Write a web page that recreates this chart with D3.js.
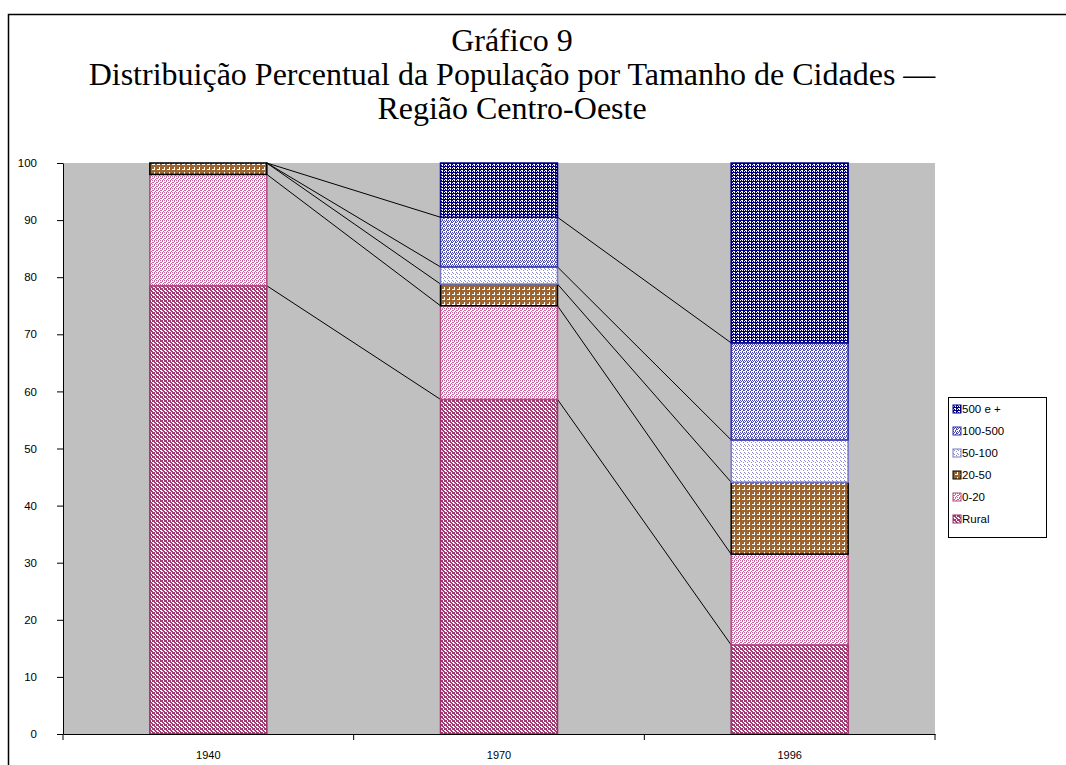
<!DOCTYPE html>
<html>
<head>
<meta charset="utf-8">
<script src="https://cdn.jsdelivr.net/npm/d3@7"></script>
<style>
  body { margin: 0; background: #fff; overflow: hidden; }
  svg { display: block; }
</style>
</head>
<body>
<div id="chart"></div>
<script>
// Data (percent of population)
const years = ['1940', '1970', '1996'];
const seriesNames = ['Rural', '0-20', '20-50', '50-100', '100-500', '500 e +'];
const rural = [78.5, 58.6, 15.6];
const size0to20 = [19.5, 16.4, 15.9];
const size20to50 = [2.0, 3.8, 12.6];
const size50to100 = [0, 3.0, 7.4];
const size100to500 = [0, 8.7, 17.0];
const size500plus = [0, 9.5, 31.5];
const yTicks = [0, 10, 20, 30, 40, 50, 60, 70, 80, 90, 100];
const titleLines = ['Gráfico 9', 'Distribuição Percentual da População por Tamanho de Cidades —', 'Região Centro-Oeste'];

const seriesValues = [rural, size0to20, size20to50, size50to100, size100to500, size500plus];

const width = 1066, height = 765;
const plot = { left: 63, right: 935, top: 163, bottom: 734 };

const svg = d3.select('#chart').append('svg')
    .attr('width', width)
    .attr('height', height);

// Patterns (imitating the old Excel fill textures)
const defs = svg.append('defs');
function makePattern(id, w, h, bg, fg, cells) {
    const p = defs.append('pattern')
        .attr('id', id)
        .attr('patternUnits', 'userSpaceOnUse')
        .attr('width', w)
        .attr('height', h);
    p.append('rect').attr('width', w).attr('height', h).attr('fill', bg);
    cells.forEach(c => {
        p.append('rect').attr('x', c[0]).attr('y', c[1])
            .attr('width', c[2] || 1).attr('height', c[3] || 1)
            .attr('fill', fg);
    });
}
// Rural: dense plum checker
makePattern('pRural', 4, 4, '#ffffff', '#a33a73',
    [[0, 0, 2, 1], [1, 1, 2, 1], [2, 2, 2, 1], [0, 3, 1, 1], [3, 3, 1, 1], [0, 1, 1, 1], [2, 0, 1, 1]]);
// 0-20: lighter pink checker
makePattern('p0', 4, 4, '#ffffff', '#c864a0',
    [[0, 0], [2, 1], [1, 2], [3, 3], [2, 0], [0, 2]]);
// 20-50: brown plus signs
makePattern('p20', 5, 5, '#ffffff', '#9c6430',
    [[0, 0, 5, 2], [0, 0, 2, 5], [2, 2, 2, 2]]);
// 50-100: sparse light blue marks
makePattern('p50', 4, 4, '#ffffff', '#8c8cd0',
    [[0, 0], [1, 1], [3, 2]]);
// 100-500: blue dots
makePattern('p100', 4, 4, '#ffffff', '#4a4ab8',
    [[0, 0], [2, 0], [1, 1], [3, 1], [0, 2], [2, 3], [3, 2]]);
// 500 e +: navy with white holes
makePattern('p500', 4, 3, '#000080', '#ffffff',
    [[0, 0, 1, 1], [2, 0, 1, 1], [1, 2, 2, 1]]);

const fills = ['url(#pRural)', 'url(#p0)', 'url(#p20)', 'url(#p50)', 'url(#p100)', 'url(#p500)'];
const strokes = ['#9c2f6b', '#b5467f', '#000000', '#7878c4', '#3030a8', '#000080'];

// Outer chart border (only top and left edges fall inside the picture)
svg.append('path')
    .attr('d', 'M8.5,' + height + 'V14.5H' + width)
    .attr('fill', 'none')
    .attr('stroke', '#000')
    .attr('stroke-width', 1.5);

// Title
svg.append('g').selectAll('text')
    .data(titleLines)
    .enter().append('text')
    .attr('x', 512)
    .attr('y', (d, i) => 51 + i * 34)
    .attr('text-anchor', 'middle')
    .style('font-family', '"Liberation Serif", "Times New Roman", serif')
    .style('font-size', '32px')
    .text(d => d);

// Scales
const x = d3.scaleBand()
    .domain(years)
    .range([plot.left, plot.right])
    .paddingInner(0.5975)
    .paddingOuter(0.29875);
const y = d3.scaleLinear()
    .domain([0, 100])
    .range([plot.bottom, plot.top]);

// Plot area background
svg.append('rect')
    .attr('x', plot.left).attr('y', plot.top)
    .attr('width', plot.right - plot.left)
    .attr('height', plot.bottom - plot.top)
    .attr('fill', '#c0c0c0');

// Stack the series
const table = years.map((yr, i) => {
    const row = { year: yr };
    seriesNames.forEach((s, k) => { row[s] = seriesValues[k][i]; });
    return row;
});
const stacked = d3.stack().keys(seriesNames)(table);

// Series lines between bars
const lineG = svg.append('g');
stacked.slice(0, seriesNames.length - 1).forEach(layer => {
    for (let i = 0; i < years.length - 1; i++) {
        lineG.append('line')
            .attr('x1', x(years[i]) + x.bandwidth())
            .attr('y1', y(layer[i][1]))
            .attr('x2', x(years[i + 1]))
            .attr('y2', y(layer[i + 1][1]))
            .attr('stroke', '#000')
            .attr('stroke-width', 1);
    }
});

// Bars
const layerG = svg.append('g').selectAll('g')
    .data(stacked)
    .enter().append('g');
layerG.selectAll('rect')
    .data((d, k) => d.map(v => ({ v: v, k: k })))
    .enter().append('rect')
    .filter(d => d.v[1] - d.v[0] > 0)
    .attr('x', d => x(d.v.data.year))
    .attr('y', d => y(d.v[1]))
    .attr('width', x.bandwidth())
    .attr('height', d => y(d.v[0]) - y(d.v[1]))
    .attr('fill', d => fills[d.k])
    .attr('stroke', d => strokes[d.k])
    .attr('stroke-width', 1.5);

// Y axis
const yAxis = svg.append('g')
    .attr('transform', 'translate(' + plot.left + ',0)')
    .call(d3.axisLeft(y).tickValues(yTicks).tickSize(6).tickPadding(20).tickSizeOuter(0));
yAxis.select('.domain').attr('stroke', '#000');
yAxis.selectAll('text')
    .style('font-family', '"Liberation Sans", Arial, sans-serif')
    .style('font-size', '11.5px')
    .attr('fill', '#000');

// X axis: labels centred, ticks at category boundaries
const xAxis = svg.append('g')
    .attr('transform', 'translate(0,' + plot.bottom + ')')
    .call(d3.axisBottom(x).tickSize(0).tickPadding(17).tickSizeOuter(0));
xAxis.select('.domain').attr('stroke', '#000');
xAxis.selectAll('text')
    .style('font-family', '"Liberation Sans", Arial, sans-serif')
    .style('font-size', '11px')
    .attr('fill', '#000');
const boundaries = [plot.left].concat(years.map(yr => x(yr) - x.step() * 0.29875 + x.step()));
xAxis.selectAll('.bound')
    .data(boundaries)
    .enter().append('line')
    .attr('class', 'bound')
    .attr('x1', d => d).attr('x2', d => d)
    .attr('y1', 0).attr('y2', 6)
    .attr('stroke', '#000');

// Legend
const legend = svg.append('g').attr('transform', 'translate(948,397)');
legend.append('rect')
    .attr('x', 0.5).attr('y', 0.5)
    .attr('width', 98).attr('height', 140)
    .attr('fill', '#fff')
    .attr('stroke', '#000');
const legendOrder = d3.range(seriesNames.length).reverse();
const item = legend.selectAll('.item')
    .data(legendOrder)
    .enter().append('g')
    .attr('class', 'item')
    .attr('transform', (k, i) => 'translate(5,' + (12 + i * 22) + ')');
item.append('rect')
    .attr('x', 0).attr('y', -4)
    .attr('width', 8).attr('height', 8)
    .attr('fill', k => fills[k])
    .attr('stroke', k => strokes[k]);
item.append('text')
    .attr('x', 9)
    .attr('y', 4)
    .style('font-family', '"Liberation Sans", Arial, sans-serif')
    .style('font-size', '11.5px')
    .text(k => seriesNames[k]);
</script>
</body>
</html>
